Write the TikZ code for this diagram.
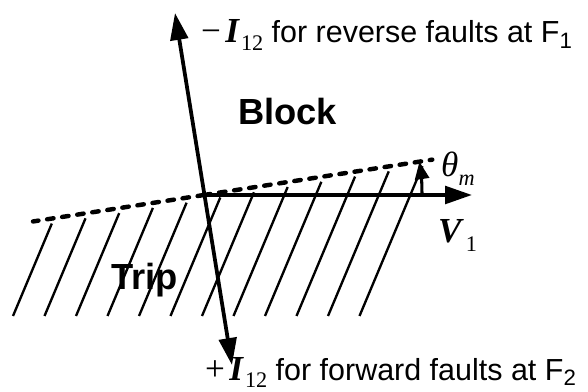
\documentclass[tikz,border=0pt]{standalone}
\usepackage{fontspec}
\setmainfont{Liberation Sans}
\newfontfamily\tms{Liberation Serif}
\usetikzlibrary{arrows.meta}

\newcommand{\lowsub}[2]{\raisebox{-#1}{\fontsize{19}{19}\selectfont #2}}
\newcommand{\cursym}[1]{{\tms\fontsize{30}{30}\selectfont #1\hspace{0.12em}\textbf{\textit{I}}\hspace{0.03em}\lowsub{6pt}{12}}}

\begin{document}
\begin{tikzpicture}[
  x=0.03cm,y=0.03cm,
  vector/.style={line width=3.2pt,-{Triangle[length=23pt,width=15pt]}},
  currents/.style={line width=3.2pt,{Triangle[length=23pt,width=15pt]}-{Triangle[length=23pt,width=15pt]}},
  boundary/.style={line width=3.8pt,line cap=round,dash pattern=on 5.5pt off 7.5pt},
  hatch/.style={line width=2pt},
  anglemark/.style={line width=2.6pt,-{Triangle[length=15pt,width=12pt]}},
  caption/.style={anchor=base west,inner sep=0pt,font=\fontsize{26}{26}\selectfont},
  region/.style={anchor=base west,inner sep=0pt,font=\bfseries\fontsize{31}{31}\selectfont},
  symbol/.style={anchor=base west,inner sep=0pt,font=\tms\fontsize{30}{30}\selectfont}
]
\useasboundingbox (0,0) rectangle (588,391);
\coordinate (origin) at (204,196);
\coordinate (revtip) at (175,378);
\coordinate (fwdtip) at (232,26);
\coordinate (vtip) at (472,196);
% hatched trip region
\foreach \i in {0,...,11}{
  \pgfmathsetmacro{\xb}{13+31.5*\i}
  \pgfmathsetmacro{\len}{(84.4+0.155*\xb)/0.935}
  \draw[hatch] (\xb,75) -- ++(0.42*\len,\len);
}
\draw[boundary] (origin) -- ++(188.8:173);
\draw[boundary] (origin) -- ++(8.8:231);
\draw[vector] (origin) -- (vtip);
\draw[currents] (fwdtip) -- (revtip);
\draw[anglemark] ([shift={(218,0)}]origin) arc[start angle=0,end angle=8.8,radius=218];
\node[region] (block) at (238,266) {Block};
\node[region] (trip) at (111,101) {Trip};
\node[caption] (reverse) at (201,348) {\cursym{−} for reverse faults at F\lowsub{5pt}{1}};
\node[caption] (forward) at (205,11) {\cursym{+} for forward faults at F\lowsub{5pt}{2}};
\node[symbol] (theta) at (441,214) {\textit{θ}\lowsub{7pt}{\textit{m}}};
\node[symbol] (volt) at (438,148) {\textbf{\textit{V}}\hspace{0.05em}\lowsub{7.5pt}{1}};
\end{tikzpicture}
\end{document}
